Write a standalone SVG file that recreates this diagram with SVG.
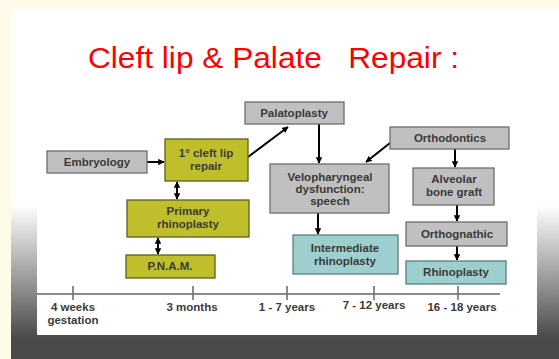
<svg xmlns="http://www.w3.org/2000/svg" width="559" height="359" viewBox="0 0 559 359">
<defs>
<linearGradient id="bg" gradientUnits="userSpaceOnUse" x1="0" y1="205" x2="0" y2="338">
<stop offset="0" stop-color="#ffffff"/>
<stop offset="1" stop-color="#4a4a4a"/>
</linearGradient>
<marker id="ah" viewBox="0 0 10 10" refX="9" refY="5" markerWidth="3.2" markerHeight="3.2" orient="auto-start-reverse" markerUnits="strokeWidth">
<path d="M0,0 L10,5 L0,10 z" fill="#000"/>
</marker>
<style>
.gray{fill:#c0c0c0;stroke:#6e6e6e;stroke-width:1.3}
.olive{fill:#bfbf2c;stroke:#5e5e20;stroke-width:1.3}
.teal{fill:#9dcfcf;stroke:#5a7f7f;stroke-width:1.3}
.t{font-family:"Liberation Sans",Arial,sans-serif;font-size:11.5px;font-weight:bold;fill:#3a3a3a;text-anchor:middle}
.c{stroke:#000;stroke-width:2;fill:none;marker-end:url(#ah)}
.d{stroke:#000;stroke-width:2;fill:none;marker-end:url(#ah);marker-start:url(#ah)}
.ax{stroke:#666;stroke-width:1.5;fill:none}
</style>
</defs>
<rect x="0" y="0" width="559" height="359" fill="#fffbe8"/>
<rect x="11" y="10" width="548" height="349" fill="url(#bg)"/>
<rect x="37" y="90" width="500" height="245" fill="#ffffff"/>
<text x="88" y="68" xml:space="preserve" textLength="371" lengthAdjust="spacingAndGlyphs" font-family="Liberation Sans, Arial, sans-serif" font-size="30" fill="#ff0000">Cleft lip &amp; Palate   Repair :</text>

<g id="connectors">
<line class="c" x1="147" y1="162" x2="164" y2="162"/>
<line class="c" x1="248" y1="157" x2="288" y2="127"/>
<line class="c" x1="319" y1="124" x2="319" y2="163"/>
<line class="c" x1="390" y1="143" x2="366" y2="162"/>
<line class="c" x1="455" y1="149" x2="455" y2="167"/>
<line class="d" x1="177" y1="182" x2="177" y2="199"/>
<line class="d" x1="158" y1="238" x2="158" y2="254"/>
<line class="c" x1="318" y1="213" x2="318" y2="234"/>
<line class="c" x1="457" y1="205" x2="457" y2="221"/>
<line class="c" x1="457" y1="246" x2="457" y2="260"/>
</g>

<g id="embryology"><rect class="gray" x="47" y="151" width="100" height="22"/><text class="t" x="97" y="166">Embryology</text></g>
<g id="cleft-lip-repair"><rect class="olive" x="165" y="139" width="83" height="42"/><text class="t" x="206" y="157">1° cleft lip</text><text class="t" x="206" y="170">repair</text></g>
<g id="palatoplasty"><rect class="gray" x="245" y="102" width="99" height="22"/><text class="t" x="294" y="117">Palatoplasty</text></g>
<g id="orthodontics"><rect class="gray" x="390" y="127" width="119" height="22"/><text class="t" x="450" y="142">Orthodontics</text></g>
<g id="velopharyngeal"><rect class="gray" x="270" y="164" width="119" height="49"/><text class="t" x="330" y="181">Velopharyngeal</text><text class="t" x="330" y="193">dysfunction:</text><text class="t" x="330" y="205">speech</text></g>
<g id="alveolar"><rect class="gray" x="413" y="168" width="81" height="37"/><text class="t" x="454" y="183">Alveolar</text><text class="t" x="454" y="196">bone graft</text></g>
<g id="orthognathic"><rect class="gray" x="406" y="222" width="101" height="24"/><text class="t" x="457" y="238">Orthognathic</text></g>
<g id="rhinoplasty"><rect class="teal" x="406" y="261" width="100" height="23"/><text class="t" x="456" y="276">Rhinoplasty</text></g>
<g id="intermediate-rhinoplasty"><rect class="teal" x="293" y="235" width="105" height="39"/><text class="t" x="345" y="252">Intermediate</text><text class="t" x="345" y="265">rhinoplasty</text></g>
<g id="primary-rhinoplasty"><rect class="olive" x="127" y="200" width="122" height="37"/><text class="t" x="188" y="215">Primary</text><text class="t" x="188" y="228">rhinoplasty</text></g>
<g id="pnam"><rect class="olive" x="126" y="255" width="89" height="23"/><text class="t" x="170" y="270">P.N.A.M.</text></g>

<g id="timeline">
<line class="ax" x1="37" y1="294" x2="500" y2="294"/>
<line class="ax" x1="73" y1="286" x2="73" y2="300"/>
<line class="ax" x1="193" y1="286" x2="193" y2="300"/>
<line class="ax" x1="287" y1="286" x2="287" y2="300"/>
<line class="ax" x1="374" y1="286" x2="374" y2="300"/>
<line class="ax" x1="458" y1="286" x2="458" y2="300"/>
<text class="t" x="73" y="311">4 weeks</text>
<text class="t" x="73" y="324">gestation</text>
<text class="t" x="192" y="311">3 months</text>
<text class="t" x="287" y="311">1 - 7 years</text>
<text class="t" x="374" y="309">7 - 12 years</text>
<text class="t" x="462" y="311">16 - 18 years</text>
</g>
</svg>
